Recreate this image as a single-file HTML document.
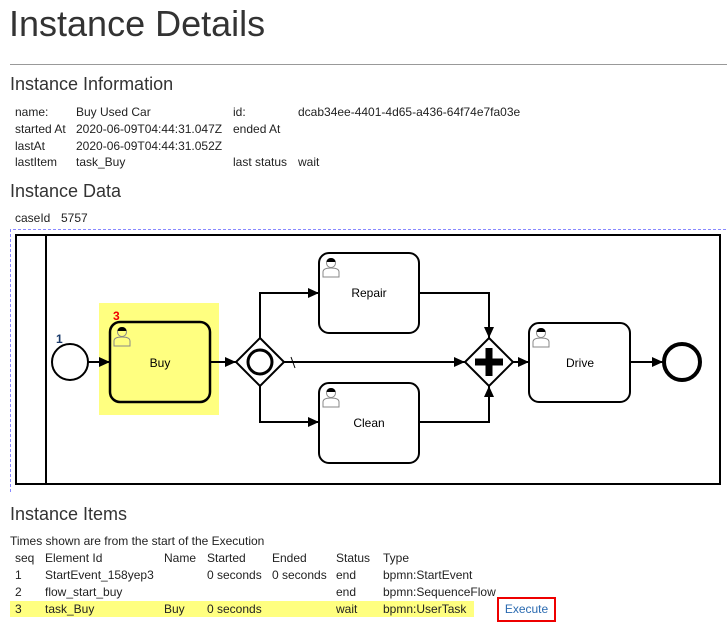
<!DOCTYPE html>
<html><head><style>
body{margin:0;width:727px;height:624px;background:#fff;font-family:"Liberation Sans",Arial,sans-serif;color:#222;position:relative;overflow:hidden}
.a{position:absolute;white-space:nowrap}
.s{font-size:12px;line-height:14px}
.h{font-size:18px;line-height:20px;color:#333}
</style></head><body>
<div class="a" style="left:9px;top:3px;font-size:36px;line-height:42px;color:#333">Instance Details</div>
<div class="a" style="left:10px;top:64px;width:717px;height:1px;background:#999"></div>
<div class="a h" style="left:10px;top:74px">Instance Information</div>
<div class="a s" style="left:15px;top:105px">name:</div><div class="a s" style="left:76px;top:105px">Buy Used Car</div>
<div class="a s" style="left:233px;top:105px">id:</div><div class="a s" style="left:298px;top:105px">dcab34ee-4401-4d65-a436-64f74e7fa03e</div>
<div class="a s" style="left:15px;top:122px">started At</div><div class="a s" style="left:76px;top:122px">2020-06-09T04:44:31.047Z</div>
<div class="a s" style="left:233px;top:122px">ended At</div>
<div class="a s" style="left:15px;top:139px">lastAt</div><div class="a s" style="left:76px;top:139px">2020-06-09T04:44:31.052Z</div>
<div class="a s" style="left:15px;top:155px">lastItem</div><div class="a s" style="left:76px;top:155px">task_Buy</div>
<div class="a s" style="left:233px;top:155px">last status</div><div class="a s" style="left:298px;top:155px">wait</div>
<div class="a h" style="left:10px;top:181px">Instance Data</div>
<div class="a s" style="left:15px;top:211px">caseId</div><div class="a s" style="left:61px;top:211px">5757</div>
<svg class="a" style="left:0;top:0" width="727" height="624">
<defs><marker id="m" markerWidth="12" markerHeight="12" refX="11" refY="6" orient="auto" markerUnits="userSpaceOnUse"><path d="M0,1 L11,6 L0,11z" fill="#000"/></marker></defs>
<path d="M10.5,492 V229.5 H727" fill="none" stroke="#88f" stroke-dasharray="3,2"/>
<rect x="16" y="235" width="704" height="249" fill="none" stroke="#000" stroke-width="2"/>
<line x1="46" y1="235" x2="46" y2="484" stroke="#000" stroke-width="2"/>
<rect x="99" y="303" width="120" height="112" fill="#ffff80"/>
<g fill="none" stroke="#000" stroke-width="2">
<circle cx="70" cy="362" r="18"/>
<line x1="88" y1="362" x2="110" y2="362" marker-end="url(#m)"/>
<rect x="110" y="322" width="100" height="80" rx="10" stroke-width="2.5"/>
<line x1="210" y1="362" x2="236" y2="362" marker-end="url(#m)"/>
<path d="M260,338 L284,362 L260,386 L236,362z"/>
<circle cx="260" cy="362" r="12" stroke-width="3"/>
<path d="M260,338 V293 H319" marker-end="url(#m)"/>
<path d="M260,386 V422 H319" marker-end="url(#m)"/>
<line x1="284" y1="362" x2="465" y2="362" marker-end="url(#m)"/>
<line x1="291" y1="357" x2="295" y2="368" stroke-width="1"/>
<rect x="319" y="253" width="100" height="80" rx="10"/>
<rect x="319" y="383" width="100" height="80" rx="10"/>
<path d="M419,293 H489 V338" marker-end="url(#m)"/>
<path d="M419,422 H489 V386" marker-end="url(#m)"/>
<path d="M489,338 L513,362 L489,386 L465,362z"/>
<line x1="513" y1="362" x2="529" y2="362" marker-end="url(#m)"/>
<rect x="529" y="323" width="101" height="79" rx="10"/>
<line x1="630" y1="362" x2="663" y2="362" marker-end="url(#m)"/>
<circle cx="682" cy="362" r="18" stroke-width="4"/>
</g>
<path d="M475,362 H503 M489,348 V376" stroke="#000" stroke-width="7"/>
<g font-family="Liberation Sans,Arial,sans-serif" font-size="12" text-anchor="middle" fill="#000">
<text x="160" y="367">Buy</text><text x="369" y="297">Repair</text><text x="369" y="427">Clean</text><text x="580" y="367">Drive</text>
</g>
<text x="56" y="343" font-family="Liberation Sans,Arial,sans-serif" font-size="12" font-weight="bold" fill="#1a3a6a">1</text>
<text x="113" y="320" font-family="Liberation Sans,Arial,sans-serif" font-size="12" font-weight="bold" fill="#e00">3</text>
<g fill="none" stroke="#888" stroke-width="1">
<g id="u"><circle cx="122" cy="332" r="4.5"/><path d="M114,346 V341 Q114,337 122,337 Q130,337 130,341 V346z"/></g>
<use href="#u" x="209" y="-69"/><use href="#u" x="209" y="61"/><use href="#u" x="419" y="1"/>
</g>
<g fill="#000"><path d="M117.5,331 Q118,327 122,327 Q126,327 126.5,331z"/></g>
<g fill="#000"><path d="M326.5,262 Q327,258 331,258 Q335,258 335.5,262z"/><path d="M326.5,392 Q327,388 331,388 Q335,388 335.5,392z"/><path d="M536.5,332 Q537,328 541,328 Q545,328 545.5,332z"/></g>
</svg>
<div class="a h" style="left:10px;top:504px">Instance Items</div>
<div class="a s" style="left:10px;top:534px">Times shown are from the start of the Execution</div>
<div class="a" style="left:10px;top:601px;width:464px;height:16px;background:#ffff80"></div>
<div class="a s" style="left:15px;top:551px">seq</div><div class="a s" style="left:45px;top:551px">Element Id</div><div class="a s" style="left:164px;top:551px">Name</div><div class="a s" style="left:207px;top:551px">Started</div><div class="a s" style="left:272px;top:551px">Ended</div><div class="a s" style="left:336px;top:551px">Status</div><div class="a s" style="left:383px;top:551px">Type</div>
<div class="a s" style="left:15px;top:568px">1</div><div class="a s" style="left:45px;top:568px">StartEvent_158yep3</div><div class="a s" style="left:207px;top:568px">0 seconds</div><div class="a s" style="left:272px;top:568px">0 seconds</div><div class="a s" style="left:336px;top:568px">end</div><div class="a s" style="left:383px;top:568px">bpmn:StartEvent</div>
<div class="a s" style="left:15px;top:585px">2</div><div class="a s" style="left:45px;top:585px">flow_start_buy</div><div class="a s" style="left:336px;top:585px">end</div><div class="a s" style="left:383px;top:585px">bpmn:SequenceFlow</div>
<div class="a s" style="left:15px;top:602px">3</div><div class="a s" style="left:45px;top:602px">task_Buy</div><div class="a s" style="left:164px;top:602px">Buy</div><div class="a s" style="left:207px;top:602px">0 seconds</div><div class="a s" style="left:336px;top:602px">wait</div><div class="a s" style="left:383px;top:602px">bpmn:UserTask</div>
<div class="a s" style="left:497px;top:597px;width:55px;height:21px;border:2px solid #e00;color:#2a6ab0;text-align:center;line-height:21px">Execute</div>
</body></html>
